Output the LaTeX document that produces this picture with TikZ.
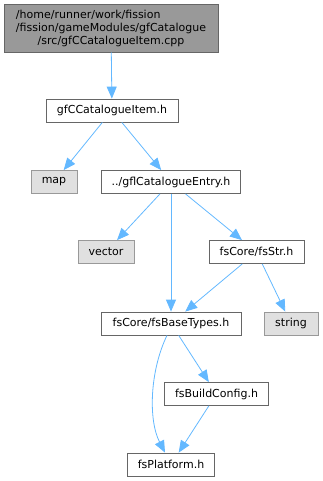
\documentclass[tikz,border=0pt]{standalone}
\usepackage{fontspec}
\setmainfont{DejaVu Sans}
\usepackage{calc}
\usetikzlibrary{arrows.meta}
\definecolor{edgeblue}{HTML}{63B8FF}
\definecolor{boxline}{HTML}{666666}
\definecolor{sysline}{HTML}{999999}
\definecolor{sysfill}{HTML}{E0E0E0}
\definecolor{srcfill}{HTML}{999999}
\begin{document}
\begin{tikzpicture}[x=1pt, y=1pt,
	font=\fontsize{11}{13}\selectfont,
	file/.style={draw=boxline, fill=white, line width=0.8pt, inner sep=0pt, minimum height=23pt},
	sys/.style={file, draw=sysline, fill=sysfill},
	dep/.style={draw=edgeblue, line width=0.8pt, -{Triangle[length=12pt, width=10pt]}}]
	\useasboundingbox (0,0) rectangle (323,-481);

	% --- fichier source ---
	\node[file, fill=srcfill, minimum width=214pt, minimum height=48pt, align=center] (src) at (111,-28)
		{\makebox[\widthof{/fission/gameModules/gfCatalogue}][l]{/home/runner/work/fission}\\
		 /fission/gameModules/gfCatalogue\\
		 /src/gfCCatalogueItem.cpp};

	% --- en-tetes ---
	\node[file, minimum width=132pt] (item) at (112,-110.5) {gfCCatalogueItem.h};
	\node[sys, minimum width=46pt] (map) at (54,-182) {map};
	\node[file, minimum width=139pt] (entry) at (171,-182) {../gflCatalogueEntry.h};
	\node[sys, minimum width=56pt] (vector) at (106,-252) {vector};
	\node[file, minimum width=95pt] (fsstr) at (256.5,-252) {fsCore/fsStr.h};
	\node[file, minimum width=140pt] (basetypes) at (171,-323.5) {fsCore/fsBaseTypes.h};
	\node[sys, minimum width=54pt] (string) at (291,-323.5) {string};
	\node[file, minimum width=104pt] (buildcfg) at (216.5,-394) {fsBuildConfig.h};
	\node[file, minimum width=87pt] (platform) at (171,-464.5) {fsPlatform.h};

	% --- dependances ---
	\draw[dep] (src) -- (item);
	\draw[dep] (item) -- (map);
	\draw[dep] (item) -- (entry);
	\draw[dep] (entry) -- (vector);
	\draw[dep] (entry) -- (basetypes);
	\draw[dep] (entry) -- (fsstr);
	\draw[dep] (fsstr) -- (basetypes);
	\draw[dep] (fsstr) -- (string);
	\draw[dep] (basetypes) -- (buildcfg);
	\draw[dep] ([xshift=-4pt]basetypes.south) .. controls +(-17,-35) and +(-17,33) .. ([xshift=-6pt]platform.north);
	\draw[dep] (buildcfg) -- (platform);
\end{tikzpicture}
\end{document}
